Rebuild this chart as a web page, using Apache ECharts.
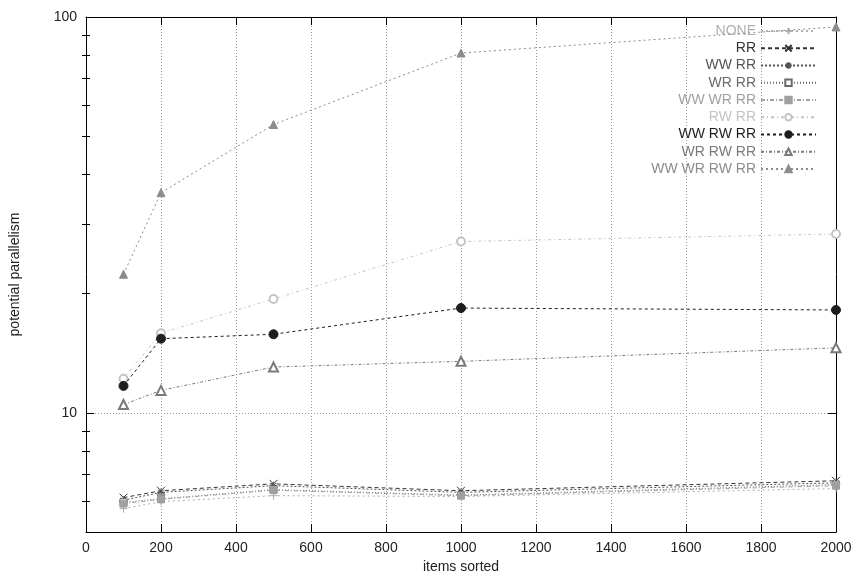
<!DOCTYPE html>
<html>
<head>
<meta charset="utf-8">
<script src="https://cdn.jsdelivr.net/npm/echarts@6/dist/echarts.min.js"></script>
<style>html,body{margin:0;padding:0;background:#fff}#c{width:857px;height:579px}</style>
</head>
<body>
<div id="c"></div>
<script>
var itemsSorted = [100, 200, 500, 1000, 2000];
var seriesNames = ['NONE', 'RR', 'WW RR', 'WR RR', 'WW WR RR', 'RW RR', 'WW RW RR', 'WR RW RR', 'WW WR RW RR'];
var none      = [5.73, 5.97, 6.18, 6.15, 6.44];
var rr        = [6.11, 6.36, 6.62, 6.36, 6.74];
var wwRr      = [6.02, 6.30, 6.55, 6.30, 6.66];
var wrRr      = [5.95, 6.07, 6.40, 6.20, 6.59];
var wwWrRr    = [5.90, 6.05, 6.38, 6.18, 6.55];
var rwRr      = [12.2, 15.9, 19.4, 27.1, 28.3];
var wwRwRr    = [11.7, 15.4, 15.8, 18.4, 18.2];
var wrRwRr    = [10.5, 11.4, 13.06, 13.5, 14.6];
var wwWrRwRr  = [22.4, 36.0, 53.5, 81.1, 94.4];
var yMajorTicks = [10, 100];
var yMinorTicks = [6, 7, 8, 9, 20, 30, 40, 50, 60, 70, 80, 90];

var values = [none, rr, wwRr, wrRr, wwWrRr, rwRr, wwRwRr, wrRwRr, wwWrRwRr];
var colors = ['#b0b0b0', '#333333', '#555555', '#6a6a6a', '#a0a0a0', '#c4c4c4', '#1e1e1e', '#7a7a7a', '#8c8c8c'];
var dashes = [[2,3], [4,3], [2,2], [1,2], [4,2,1,2], [3,3,1,3], [3,3], [3,2,1,2], [2,3]];
var PLUS = 'path://M5,0L5,10M0,5L10,5';
var CROSS = 'path://M0,0L10,10M10,0L0,10';
var STAR = 'path://M5,0L5,10M0,5L10,5M1.5,1.5L8.5,8.5M8.5,1.5L1.5,8.5';
var symbols = [PLUS, CROSS, STAR, 'rect', 'rect', 'emptyCircle', 'circle', 'emptyTriangle', 'triangle'];
var fills = ['none', 'none', 'none', '#ffffff', null, null, null, null, null];
var sizes = [8, 8, 8, 7, 7, 8, 9, 9, 8];

var font = 'Liberation Sans, Arial, Helvetica, sans-serif';

var series = seriesNames.map(function (name, i) {
  return {
    name: name,
    type: 'line',
    xAxisIndex: 0,
    yAxisIndex: 0,
    data: itemsSorted.map(function (x, k) { return [x, values[i][k]]; }),
    symbol: symbols[i],
    symbolSize: sizes[i],
    showAllSymbol: true,
    animation: false,
    z: 10 + i,
    lineStyle: { color: colors[i], width: 1, type: dashes[i] },
    itemStyle: {
      color: fills[i] || colors[i],
      borderColor: colors[i],
      borderWidth: 1
    },
    emphasis: { disabled: true }
  };
});

var gridLine = { show: true, lineStyle: { color: '#9a9a9a', type: [1, 2], width: 1 } };
var axisLine = { show: true, onZero: false, lineStyle: { color: '#000', width: 1 } };

var option = {
  backgroundColor: '#fff',
  animation: false,
  grid: { left: 84, right: 21, top: 17, bottom: 46, containLabel: false },
  legend: {
    orient: 'vertical',
    right: 35,
    top: 19,
    align: 'right',
    itemWidth: 55,
    itemHeight: 8,
    itemGap: 3.25,
    selectedMode: false,
    textStyle: { fontFamily: font, fontSize: 14 },
    data: seriesNames.map(function (n, i) {
      return { name: n, textStyle: { color: colors[i] } };
    })
  },
  xAxis: [
    {
      type: 'value', position: 'bottom', min: 0, max: 2000, interval: 200,
      name: 'items sorted', nameLocation: 'middle', nameGap: 27,
      nameTextStyle: { fontFamily: font, fontSize: 14, color: '#222' },
      axisLine: axisLine,
      axisTick: { inside: true, length: 8, lineStyle: { color: '#000' } },
      axisLabel: { fontFamily: font, fontSize: 14, color: '#222', margin: 9,
        formatter: function (v) { return String(v); } },
      splitLine: gridLine
    },
    {
      type: 'value', position: 'top', min: 0, max: 2000, interval: 200,
      axisLine: axisLine,
      axisTick: { inside: true, length: 8, lineStyle: { color: '#000' } },
      axisLabel: { show: false },
      splitLine: { show: false }
    }
  ],
  yAxis: [
    {
      type: 'log', position: 'left', min: 5, max: 100, logBase: 10,
      name: 'potential parallelism', nameLocation: 'middle', nameGap: 64,
      nameTextStyle: { fontFamily: font, fontSize: 14, color: '#222' },
      axisLine: axisLine,
      axisTick: { inside: true, length: 8, customValues: yMajorTicks, lineStyle: { color: '#000' } },
      axisLabel: { customValues: yMajorTicks, fontFamily: font, fontSize: 14, color: '#222', margin: 9,
        formatter: function (v) { return String(v); } },
      splitLine: gridLine
    },
    {
      type: 'log', position: 'left', min: 5, max: 100, logBase: 10,
      axisLine: { show: false },
      axisTick: { inside: true, length: 4, customValues: yMinorTicks, lineStyle: { color: '#000' } },
      axisLabel: { show: false },
      splitLine: { show: false }
    },
    {
      type: 'log', position: 'right', min: 5, max: 100, logBase: 10,
      axisLine: axisLine,
      axisTick: { inside: true, length: 8, customValues: yMajorTicks, lineStyle: { color: '#000' } },
      axisLabel: { show: false },
      splitLine: { show: false }
    },
    {
      type: 'log', position: 'right', min: 5, max: 100, logBase: 10,
      axisLine: { show: false },
      axisTick: { inside: true, length: 4, customValues: yMinorTicks, lineStyle: { color: '#000' } },
      axisLabel: { show: false },
      splitLine: { show: false }
    }
  ],
  series: series
};

var chart = echarts.init(document.getElementById('c'), null, { renderer: 'canvas' });
chart.setOption(option);
</script>
</body>
</html>
